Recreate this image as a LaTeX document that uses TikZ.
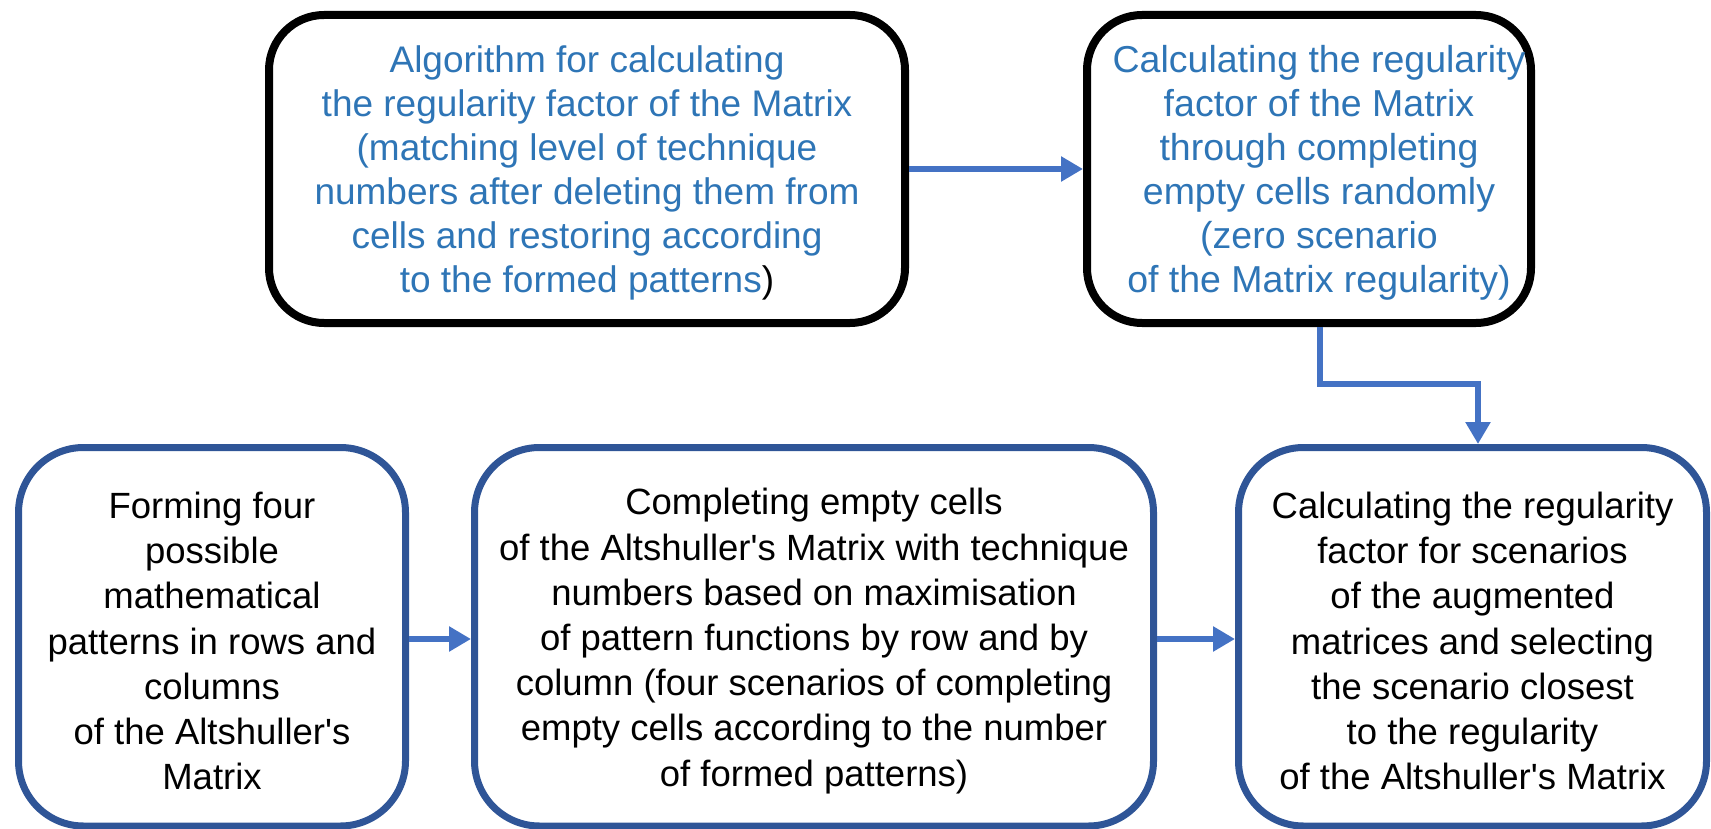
\documentclass[tikz,border=0pt]{standalone}
\usepackage{fontspec}
\setmainfont{Liberation Sans}[Ligatures=TeXOff]
\usetikzlibrary{arrows.meta}
\definecolor{topblue}{HTML}{2E75B6}
\definecolor{arrblue}{HTML}{4472C4}
\definecolor{boxblue}{HTML}{2F5597}
\tikzset{
  topbox/.style={draw=black, line width=8pt, rounded corners=55pt, inner sep=0pt,
    minimum height=308pt},
  toptext/.style={inner sep=0pt, align=center, text=topblue,
    font=\fontsize{37}{44}\selectfont},
  botbox/.style={draw=boxblue, line width=7pt, rounded corners=65pt, inner sep=0pt,
    minimum height=378.5pt},
  bottext/.style={inner sep=0pt, align=center, text=black,
    font=\fontsize{36.5}{45.2}\selectfont},
  arr/.style={draw=arrblue, line width=6pt, -{Triangle[length=22pt,width=24pt]}}
}
\begin{document}
\begin{tikzpicture}[x=1pt,y=-1pt]
\useasboundingbox (0,0) rectangle (1711,829);
\node[topbox, minimum width=636pt] (A) at (587,169) {};
\node[toptext] (tA) at (587,172.5) {Algorithm for calculating\\the regularity factor of the Matrix\\(matching level of technique\\numbers after deleting them from\\cells and restoring according\\to the formed patterns\textcolor{black}{)}};
\node[topbox, minimum width=444pt] (B) at (1309,169) {};
\node[toptext, font=\fontsize{37.5}{44}\selectfont] (tB) at (1319,172.5) {Calculating the regularity\\factor of the Matrix\\through completing\\empty cells randomly\\(zero scenario\\of the Matrix regularity)};
\node[botbox, minimum width=387pt] (C1) at (212,636.75) {};
\node[bottext] (t1) at (212,641) {Forming four\\possible\\mathematical\\patterns in rows and\\columns\\of the Altshuller's\\Matrix};
\node[botbox, minimum width=679pt] (C2) at (814,636.75) {};
\node[bottext] (t2) at (814,641) {Completing empty cells\\of the Altshuller's Matrix with technique\\numbers based on maximisation\\of pattern functions by row and by\\column (four scenarios of completing\\empty cells according to the number\\of formed patterns)};
\node[botbox, minimum width=468pt] (C3) at (1472.5,636.75) {};
\node[bottext] (t3) at (1472.5,641) {Calculating the regularity\\factor for scenarios\\of the augmented\\matrices and selecting\\the scenario closest\\to the regularity\\of the Altshuller's Matrix};
\coordinate (m1) at (1320,384);
\coordinate (m2) at (1478,384);
\draw[arr] (A.east |- 0,169) -- (B.west |- 0,169);
\draw[arr] (B.south -| m1) -- (m1) -- (m2) -- (m2 |- C3.north);
\draw[arr] (C1.east |- 0,639) -- (C2.west |- 0,639);
\draw[arr] (C2.east |- 0,639) -- (C3.west |- 0,639);
\end{tikzpicture}
\end{document}
